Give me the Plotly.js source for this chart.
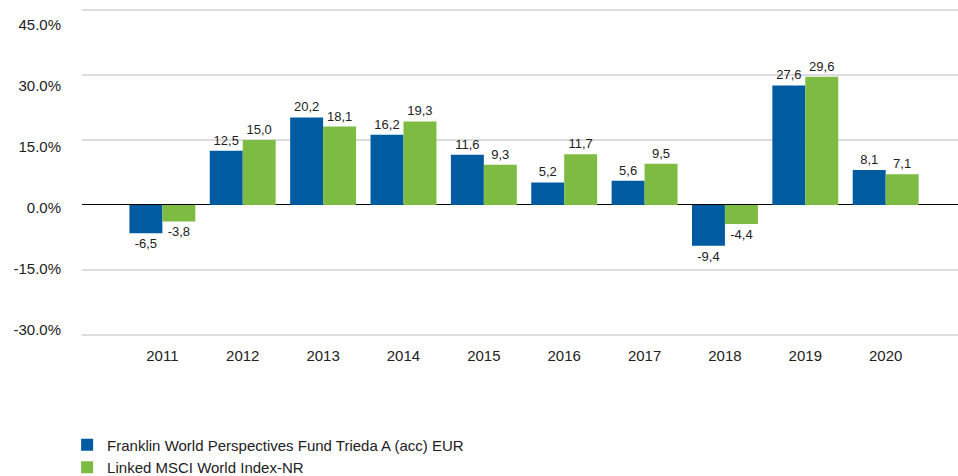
<!DOCTYPE html>
<html><head><meta charset="utf-8">
<script src="https://cdn.plot.ly/plotly-3.0.1.min.js"></script>
<style>body{margin:0;background:#fff}#c{width:958px;height:476px}</style>
</head><body><div id="c"></div>
<script>
const years = ['2011','2012','2013','2014','2015','2016','2017','2018','2019','2020'];
const fundName = 'Franklin World Perspectives Fund Trieda A (acc) EUR';
const indexName = 'Linked MSCI World Index-NR';
const fundValues = [-6.5, 12.5, 20.2, 16.2, 11.6, 5.2, 5.6, -9.4, 27.6, 8.1];
const indexValues = [-3.8, 15.0, 18.1, 19.3, 9.3, 11.7, 9.5, -4.4, 29.6, 7.1];
const yTicks = [-30, -15, 0, 15, 30, 45];
const yTickLabels = ['-30.0%','-15.0%','0.0%','15.0%','30.0%','45.0%'];

const fmt = v => v.toFixed(1).replace('.', ',');
const font = '"Liberation Sans", Arial, sans-serif';

const traces = [
  {type:'bar', name: fundName, x: years, y: fundValues, text: fundValues.map(fmt),
   textposition:'outside', cliponaxis:false, marker:{color:'#005BA1'},
   textfont:{family:font, size:13, color:'#222'}, hoverinfo:'none'},
  {type:'bar', name: indexName, x: years, y: indexValues, text: indexValues.map(fmt),
   textposition:'outside', cliponaxis:false, marker:{color:'#7DBB42'},
   textfont:{family:font, size:13, color:'#222'}, hoverinfo:'none'},
  // empty helper trace so the label axis is drawn
  {type:'scatter', mode:'markers', x:[], y:[], yaxis:'y2', showlegend:false, hoverinfo:'none'}
];

const layout = {
  width:958, height:476,
  margin:{l:82, r:0, t:9, b:140},
  paper_bgcolor:'#fff', plot_bgcolor:'#fff',
  font:{family:font, size:15, color:'#222'},
  barmode:'group', bargap:0.18, bargroupgap:0,
  showlegend:true,
  legend:{orientation:'v', x:-0.017, xanchor:'left', yref:'container', y:0.1, yanchor:'top',
          font:{family:font, size:15, color:'#222'}, tracegroupgap:0, itemwidth:30},
  xaxis:{type:'category', range:[-1, 9.9], showgrid:false, zeroline:false, showline:false,
         ticks:'', tickfont:{family:font, size:15, color:'#222'}, ticklabelstandoff:9},
  yaxis:{range:[-30.25,45.25], tickvals:yTicks, showticklabels:false, showgrid:true,
         gridcolor:'#dcdcdc', gridwidth:1.5, zeroline:true, zerolinecolor:'#000', zerolinewidth:1,
         showline:false, ticks:''},
  yaxis2:{overlaying:'y', side:'left', range:[-31.6, 48.8], tickvals:yTicks, ticktext:yTickLabels,
          showgrid:false, zeroline:false, showline:false, ticks:'',
          tickfont:{family:font, size:15, color:'#222'}, ticklabelstandoff:20}
};

Plotly.newPlot('c', traces, layout, {displayModeBar:false, staticPlot:true});
</script></body></html>
